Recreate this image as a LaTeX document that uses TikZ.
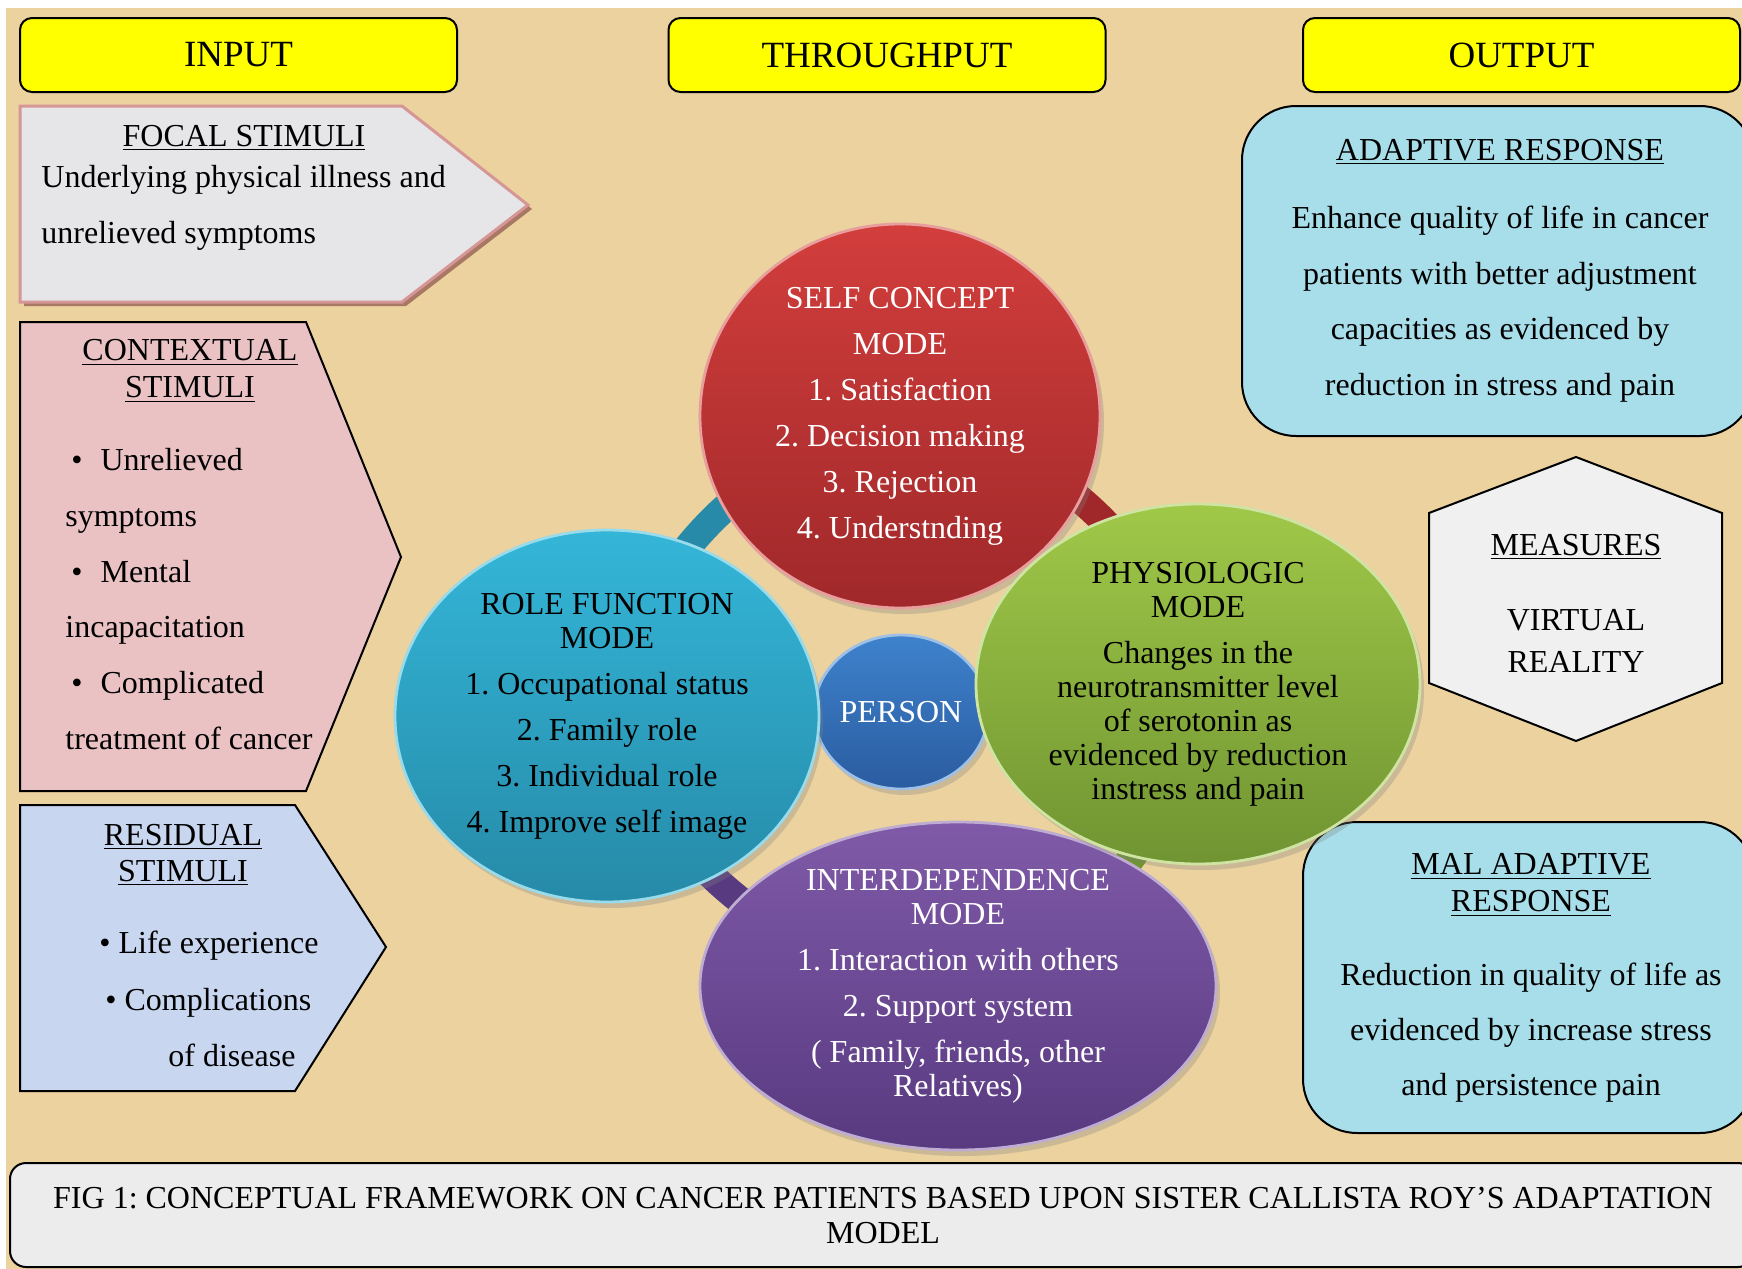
\documentclass[tikz,border=0pt]{standalone}
\usepackage{fontspec}
\setmainfont{Liberation Serif}
\usetikzlibrary{shapes.geometric,shadows}
\pgfdeclarelayer{canvas}
\pgfdeclarelayer{back}
\pgfsetlayers{canvas,back,main}
\frenchspacing

\definecolor{parch}{RGB}{235,210,158}
\definecolor{hdryellow}{RGB}{255,255,0}
\definecolor{marble}{RGB}{230,230,233}
\definecolor{focalrim}{RGB}{214,150,150}
\definecolor{focalshade}{RGB}{168,120,100}
\definecolor{ctxpink}{RGB}{234,194,196}
\definecolor{resblue}{RGB}{200,214,240}
\definecolor{aqua}{RGB}{168,222,234}
\definecolor{stone}{RGB}{240,240,240}
\definecolor{capgray}{RGB}{236,236,236}
\definecolor{redA}{RGB}{210,62,60}
\definecolor{redB}{RGB}{160,40,42}
\definecolor{cyanA}{RGB}{52,182,216}
\definecolor{cyanB}{RGB}{38,138,168}
\definecolor{blueA}{RGB}{62,130,205}
\definecolor{blueB}{RGB}{42,92,160}
\definecolor{greenA}{RGB}{160,200,72}
\definecolor{greenB}{RGB}{112,148,50}
\definecolor{purpA}{RGB}{128,90,168}
\definecolor{purpB}{RGB}{88,58,128}

\def\bigsize{\fontsize{18.5}{22}\selectfont}
\def\bodyfont#1{\fontsize{16}{#1}\selectfont}

\tikzset{
	hdrbox/.style={draw=black, line width=1pt, fill=hdryellow, rounded corners=6pt,
		minimum width=218.5pt, minimum height=37pt, inner sep=0pt, font=\bigsize},
	stim/.style={draw=black, line width=1pt},
	boxtxt/.style={inner sep=0pt, align=center, font=\bodyfont{18.5}},
	modeball/.style n args={3}{ellipse, inner sep=-6pt, top color=#1, bottom color=#2,
		draw=#1!50!white, line width=1.4pt, text=#3, align=center,
		drop shadow={opacity=0.3, shadow xshift=2pt, shadow yshift=-3pt}},
	ringbar/.style={line width=14pt, draw=#1},
}

\begin{document}
\begin{tikzpicture}[x=0.5pt, y=0.5pt]
		%%%%% START %%%%%
		\useasboundingbox (0,0) rectangle (1742,-1269);
		\begin{pgfonlayer}{canvas}
			\fill[parch] (6,-8) rectangle (1742,-1269);
		\end{pgfonlayer}
		
		% headers
		\node[hdrbox] (input) at (238.5,-55) {INPUT};
		\node[hdrbox] (through) at (887,-55) {THROUGHPUT};
		\node[hdrbox] (output) at (1521.5,-55) {OUTPUT};
		
		% focal stimuli
		\fill[focalshade] (24,-110) -- (406,-110) -- (532,-209) -- (406,-306) -- (24,-306) -- cycle;
		\draw[focalrim, line width=1.5pt, fill=marble] (20,-106) -- (402,-106) -- (528,-205) -- (402,-302) -- (20,-302) -- cycle;
		\node[boxtxt] (focalhd) at (244,-138) {\underline{FOCAL STIMULI}};
		\node[boxtxt, align=left, anchor=west, font=\bodyfont{28}] (focal) at (41,-208)
			{Underlying physical illness and\\unrelieved symptoms};
		
		% contextual stimuli
		\draw[stim, fill=ctxpink] (20,-322) -- (306,-322) -- (401,-557) -- (306,-791) -- (20,-791) -- cycle;
		\node[boxtxt] (ctxhd) at (190,-371) {\underline{CONTEXTUAL}\\\underline{STIMULI}};
		\node[boxtxt, align=left, anchor=west, font=\bodyfont{27.9}] (ctx) at (65,-599)
			{\hspace*{3pt}\textbullet\hspace{9pt}Unrelieved\\symptoms\\
			 \hspace*{3pt}\textbullet\hspace{9pt}Mental\\incapacitation\\
			 \hspace*{3pt}\textbullet\hspace{9pt}Complicated\\treatment of cancer};
		
		% residual stimuli
		\draw[stim, fill=resblue] (20,-805) -- (295,-805) -- (386,-947) -- (295,-1091) -- (20,-1091) -- cycle;
		\node[boxtxt, font=\bodyfont{18}] (reshd) at (183,-855) {\underline{RESIDUAL}\\\underline{STIMULI}};
		\node[boxtxt, align=left, anchor=west, font=\bodyfont{28.25}] (res) at (99,-999)
			{\textbullet\ Life experience\\\hspace*{3pt}\textbullet\ Complications\\\hspace*{34.5pt}of disease};
		
		% adaptive response
		\draw[stim, fill=aqua, rounded corners=27pt] (1242,-106) rectangle (1754,-436);
		\node[boxtxt] (adapthd) at (1500,-152) {\underline{ADAPTIVE RESPONSE}};
		\node[boxtxt, font=\bodyfont{27.8}] (adapt) at (1500,-304)
			{Enhance quality of life in cancer\\patients with better adjustment\\capacities as evidenced by\\reduction in stress and pain};
		
		% measures
		\draw[stim, fill=stone] (1576,-457) -- (1722,-513) -- (1722,-683) -- (1576,-741) -- (1429,-683) -- (1429,-513) -- cycle;
		\node[boxtxt] (meashd) at (1576,-547) {\underline{MEASURES}};
		\node[boxtxt, font=\bodyfont{21}] (virtual) at (1576,-641) {VIRTUAL\\REALITY};
		
		% mal adaptive response
		\draw[stim, fill=aqua, rounded corners=27pt] (1303,-822) rectangle (1754,-1133);
		\node[boxtxt] (malhd) at (1531,-885) {\underline{MAL ADAPTIVE}\\\underline{RESPONSE}};
		\node[boxtxt, font=\bodyfont{27.5}] (mal) at (1531,-1033)
			{Reduction in quality of life as\\evidenced by increase stress\\and persistence pain};
		
		% caption
		\draw[stim, fill=capgray, rounded corners=8pt] (10,-1163) rectangle (1754,-1267);
		\node[boxtxt, font=\bodyfont{17.5}] (caption) at (883,-1216)
			{FIG 1: CONCEPTUAL FRAMEWORK ON CANCER PATIENTS BASED UPON SISTER CALLISTA ROY’S ADAPTATION\\MODEL};
		
		% adaptation modes
		\node[modeball={blueA}{blueB}{white}, minimum width=87pt, minimum height=77pt, font=\bodyfont{17}] (person) at (901,-712) {PERSON};
		\node[modeball={cyanA}{cyanB}{black}, minimum width=212pt, minimum height=186pt, font=\bodyfont{17}] (role) at (607,-716)
			{ROLE FUNCTION\\MODE\\[6pt]1. Occupational status\\[6pt]2. Family role\\[6pt]3. Individual role\\[6pt]4. Improve self image};
		\node[modeball={redA}{redB}{white}, minimum width=200pt, minimum height=192pt, font=\bodyfont{23}] (self) at (900,-416)
			{SELF CONCEPT\\MODE\\1. Satisfaction\\2. Decision making\\3. Rejection\\4. Understnding};
		\node[modeball={purpA}{purpB}{white}, minimum width=258pt, minimum height=164pt, font=\bodyfont{17}] (inter) at (958,-986)
			{INTERDEPENDENCE\\MODE\\[6pt]1. Interaction with others\\[6pt]2. Support system\\[6pt]( Family, friends, other\\Relatives)};
		\node[modeball={greenA}{greenB}{black}, minimum width=222pt, minimum height=180pt, font=\bodyfont{17}] (physio) at (1198,-684)
			{PHYSIOLOGIC\\MODE\\[6pt]Changes in the\\neurotransmitter level\\of serotonin as\\evidenced by reduction\\instress and pain};
		
		% ring between the modes
		\begin{pgfonlayer}{back}
			\draw[ringbar=cyanB] (role.center) to[bend left=30] (self.center);
			\draw[ringbar=redB] (self.center) to[bend left=30] (physio.center);
			\draw[ringbar=greenB] (physio.center) to[bend left=30] (inter.center);
			\draw[ringbar=purpB] (inter.center) to[bend left=30] (role.center);
		\end{pgfonlayer}
		%%%%% END %%%%%
	\end{tikzpicture}
\end{document}
